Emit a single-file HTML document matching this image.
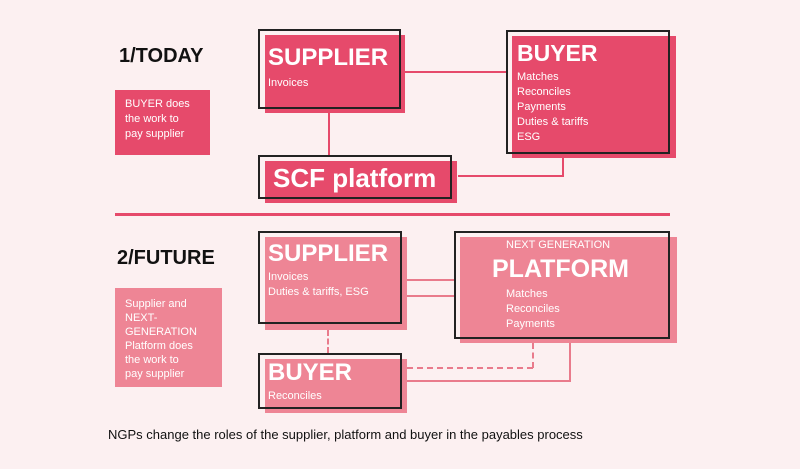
<!DOCTYPE html>
<html><head><style>
body{margin:0;width:800px;height:469px;background:#fcf0f1;position:relative;overflow:hidden;font-family:"Liberation Sans",sans-serif}
.a{position:absolute}
.p1{background:#e64a6b}
.p2{background:#ee8595}
.o{position:absolute;border:2px solid #222;box-sizing:border-box}
.t{color:#fff;font-weight:bold;position:absolute}
.s{color:#fff;font-size:11px;line-height:15px;position:absolute}
.h{position:absolute;font-weight:bold;font-size:20px;color:#111}
.l{position:absolute;background:#e64a6b}
.l2{position:absolute;background:#e97b8c}
</style></head><body>
<div class="h" style="left:119px;top:45px">1/TODAY</div>
<div class="a p1" style="left:115px;top:90px;width:95px;height:65px"></div>
<div class="s" style="left:125px;top:97px">BUYER does<br>the work to<br>pay supplier</div>

<div class="l" style="left:405px;top:71px;width:101px;height:2px"></div>
<div class="l" style="left:328px;top:113px;width:2px;height:42px"></div>
<div class="l" style="left:458px;top:175px;width:106px;height:2px"></div>
<div class="l" style="left:562px;top:158px;width:2px;height:19px"></div>

<div class="a p1" style="left:265px;top:35px;width:140px;height:78px"></div>
<div class="o" style="left:258px;top:29px;width:143px;height:80px"></div>
<div class="t" style="left:268px;top:44px;font-size:24px">SUPPLIER</div>
<div class="s" style="left:268px;top:76px">Invoices</div>

<div class="a p1" style="left:265px;top:161px;width:192px;height:42px"></div>
<div class="o" style="left:258px;top:155px;width:194px;height:44px"></div>
<div class="t" style="left:273px;top:163px;font-size:26px">SCF platform</div>

<div class="a p1" style="left:512px;top:36px;width:164px;height:122px"></div>
<div class="o" style="left:506px;top:30px;width:164px;height:124px"></div>
<div class="t" style="left:517px;top:40px;font-size:23px">BUYER</div>
<div class="s" style="left:517px;top:70px">Matches<br>Reconciles<br>Payments<br>Duties &amp; tariffs<br>ESG</div>

<div class="l" style="left:115px;top:213px;width:555px;height:3px"></div>

<div class="h" style="left:117px;top:247px">2/FUTURE</div>
<div class="a p2" style="left:115px;top:288px;width:107px;height:99px"></div>
<div class="s" style="left:125px;top:297px;line-height:14px">Supplier and<br>NEXT-<br>GENERATION<br>Platform does<br>the work to<br>pay supplier</div>

<div class="l2" style="left:407px;top:279px;width:47px;height:2px"></div>
<div class="l2" style="left:407px;top:295px;width:47px;height:2px"></div>
<div class="a" style="left:327px;top:330px;width:0;height:23px;border-left:2px dashed #e97b8c"></div>
<div class="a" style="left:407px;top:367px;width:126px;height:0;border-top:2px dashed #e97b8c"></div>
<div class="a" style="left:532px;top:343px;width:0;height:25px;border-left:2px dashed #e97b8c"></div>
<div class="l2" style="left:407px;top:380px;width:164px;height:2px"></div>
<div class="l2" style="left:569px;top:343px;width:2px;height:39px"></div>

<div class="a p2" style="left:265px;top:237px;width:142px;height:93px"></div>
<div class="o" style="left:258px;top:231px;width:144px;height:93px"></div>
<div class="t" style="left:268px;top:240px;font-size:24px">SUPPLIER</div>
<div class="s" style="left:268px;top:270px">Invoices<br>Duties &amp; tariffs, ESG</div>

<div class="a p2" style="left:460px;top:237px;width:217px;height:106px"></div>
<div class="o" style="left:454px;top:231px;width:216px;height:108px"></div>
<div class="s" style="left:506px;top:238px">NEXT GENERATION</div>
<div class="t" style="left:492px;top:255px;font-size:25px">PLATFORM</div>
<div class="s" style="left:506px;top:287px">Matches<br>Reconciles<br>Payments</div>

<div class="a p2" style="left:265px;top:359px;width:142px;height:54px"></div>
<div class="o" style="left:258px;top:353px;width:144px;height:56px"></div>
<div class="t" style="left:268px;top:359px;font-size:24px">BUYER</div>
<div class="s" style="left:268px;top:389px">Reconciles</div>

<div class="a" style="left:108px;top:427px;font-size:13px;color:#111">NGPs change the roles of the supplier, platform and buyer in the payables process</div>
</body></html>
